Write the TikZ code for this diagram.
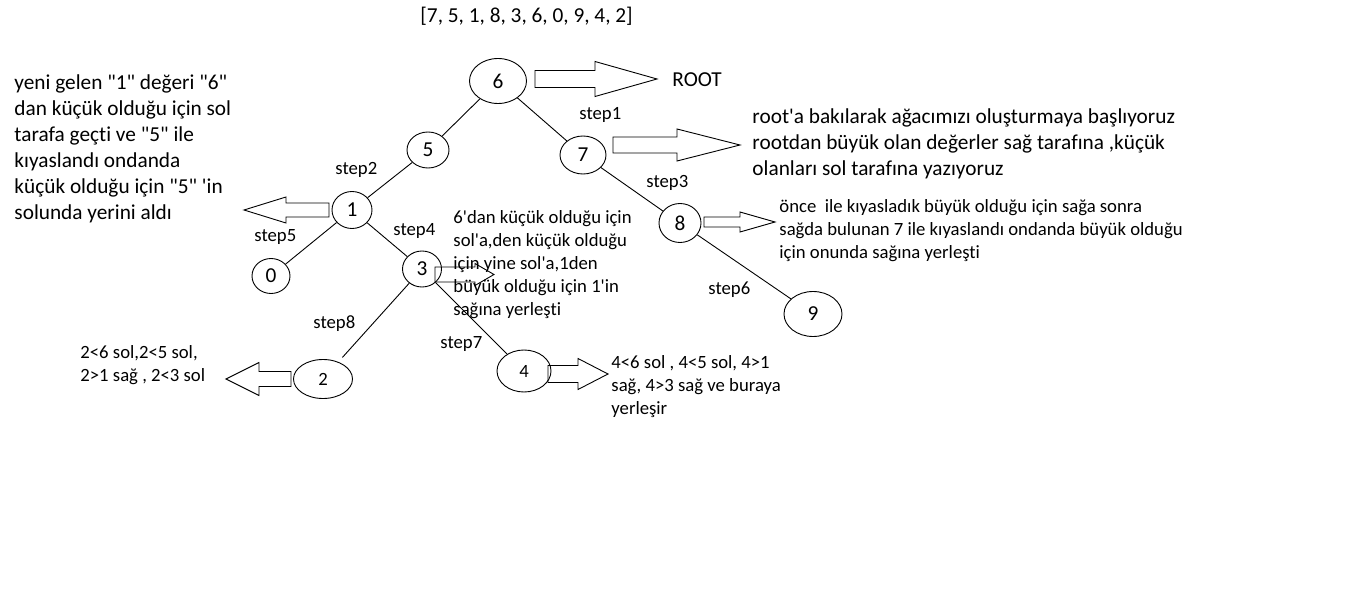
\documentclass[tikz,border=0pt]{standalone}
\usepackage{fontspec}
\newfontfamily\yazi{Carlito}[Ligatures={NoCommon}]
\usetikzlibrary{shapes.geometric}
\newcommand{\okblok}[6]{% baslangic x, govde sonu x, uc x, orta y, govde yarim, bas yarim
\draw (#1,#4-#5)--(#2,#4-#5)--(#2,#4-#6)--(#3,#4)--(#2,#4+#6)--(#2,#4+#5)--(#1,#4+#5)--cycle;
}
\tikzset{
 buyuk/.style={font=\yazi\fontsize{21.3}{26}\selectfont},
 kucuk/.style={font=\yazi\fontsize{18.7}{23}\selectfont},
 dugum/.style={draw, ellipse, inner sep=0pt, buyuk},
 adim/.style={kucuk, anchor=west, inner sep=0pt},
 aciklama/.style={align=left, anchor=north west, inner sep=0pt},
}
\begin{document}
\begin{tikzpicture}[x=1pt,y=-1pt,line width=0.9pt]
			\useasboundingbox (0,0) rectangle (1355,596);
			% agac
			\node[dugum, minimum width=57, minimum height=45] (n6) at (498,81){6};
			\node[dugum, minimum width=42, minimum height=36] (n5) at (428,150){5};
			\node[dugum, minimum width=46, minimum height=38] (n7) at (583,155){7};
			\node[dugum, minimum width=40, minimum height=37] (n1) at (352,210){1};
			\node[dugum, minimum width=38, minimum height=35] (n0) at (271,276){0};
			\node[dugum, minimum width=39, minimum height=36] (n3) at (422,269){3};
			\node[dugum, minimum width=42, minimum height=39] (n8) at (680,223){8};
			\node[dugum, minimum width=58, minimum height=45] (n9) at (813,314){9};
			\node[dugum, kucuk, minimum width=59, minimum height=39] (n2) at (323,379){2};
			\node[dugum, kucuk, minimum width=54, minimum height=42] (n4) at (524,371){4};
			
			\draw (n6)--(n5);
			\draw (n6)--(n7);
			\draw (n5)--(n1);
			\draw (n1)--(n0);
			\draw (n1)--(n3);
			\draw (n7)--(n8);
			\draw (n8)--(n9);
			\draw [shorten >=6pt](n3)--(n2);
			\draw (n3)--(n4);
			
			% oklar
			\okblok{535}{595}{657}{79}{8.5}{17.5}
			\okblok{613}{677}{740}{145}{8}{16}
			\okblok{704}{740}{775}{222}{5}{10}
			\okblok{329}{286}{244}{210}{7}{13}
			\okblok{435}{475}{494}{274.5}{7.5}{11}
			\okblok{548}{578}{608}{374}{8.5}{15.5}
			\okblok{291}{259}{226}{379}{7.5}{16.5}
			
			% yazilar
			\node[buyuk, anchor=west, inner sep=0pt] (liste) at (420,16){[7, 5, 1, 8, 3, 6, 0, 9, 4, 2]};
			\node[buyuk, anchor=west, inner sep=0pt] (root) at (672,80){ROOT};
			\node[adim] (s1) at (579,115){step1};
			\node[adim] (s2) at (335,170){step2};
			\node[adim] (s3) at (646,183){step3};
			\node[adim] (s4) at (393,231){step4};
			\node[adim] (s5) at (254,237){step5};
			\node[adim] (s6) at (708,290){step6};
			\node[adim] (s7) at (440,344){step7};
			\node[adim] (s8) at (313,324){step8};
			
			\node[buyuk, aciklama] (sol) at (14,74){yeni gelen "1" değeri "6"\\dan küçük olduğu için sol\\tarafa geçti ve "5" ile\\kıyaslandı ondanda\\küçük olduğu için "5" 'in\\solunda yerini aldı};
			\node[buyuk, aciklama] (sag) at (752,108){root'a bakılarak ağacımızı oluşturmaya başlıyoruz\\rootdan büyük olan değerler sağ tarafına ,küçük\\olanları sol tarafına yazıyoruz};
			\node[kucuk, aciklama] (once) at (779,199){önce\ \ ile kıyasladık büyük olduğu için sağa sonra\\sağda bulunan 7 ile kıyaslandı ondanda büyük olduğu\\için onunda sağına yerleşti};
			\node[kucuk, aciklama] (uc) at (453,210){6'dan küçük olduğu için\\sol'a,den küçük olduğu\\için yine sol'a,1den\\büyük olduğu için 1'in\\sağına yerleşti};
			\node[kucuk, aciklama] (dort) at (611,355){4<6 sol , 4<5 sol, 4>1\\sağ, 4>3 sağ ve buraya\\yerleşir};
			\node[kucuk, aciklama] (iki) at (80,345){2<6 sol,2<5 sol,\\2>1 sağ , 2<3 sol};
			
			\end{tikzpicture}
\end{document}
